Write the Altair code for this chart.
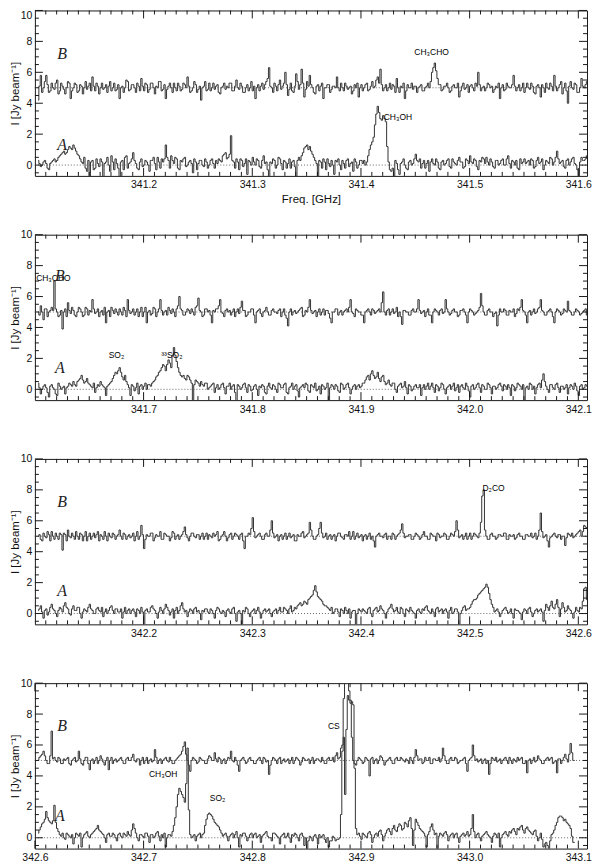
import altair as alt
import pandas as pd

# ---------------- data ----------------
START = [341.1, 341.6, 342.1, 342.6]      # GHz, left end of each panel
CH_STEP = 0.0025                           # spacing of the listed channels (GHz)
HALF = 0.00125                             # *_H lists: channels half-way between
CH_FIRST = 0.003                           # first channel offset (GHz)
SPAN = 0.508
Y_DOMAIN = [-0.7, 10.0]

B_1 = [4.2, 5.8, 5.0, 5.8, 4.7, 5.3, 4.9, 5.5, 4.8, 5.1,
       4.6, 5.4, 4.3, 5.0, 5.2, 4.8, 5.1, 5.0, 4.9, 5.3,
       5.7, 4.8, 5.1, 5.0, 4.9, 5.2, 5.1, 4.8, 5.3, 4.9,
       4.3, 5.1, 5.0, 5.4, 4.9, 5.2, 4.7, 5.1, 5.6, 4.8,
       5.2, 4.9, 5.3, 4.6, 5.0, 5.4, 4.9, 4.3, 5.1, 5.0,
       5.3, 4.8, 5.1, 4.9, 5.2, 5.7, 4.7, 5.0, 5.2, 4.9,
       4.2, 5.1, 4.8, 5.3, 5.0, 4.9, 5.2, 4.6, 5.1, 4.9,
       5.0, 5.3, 4.8, 5.5, 4.9, 5.1, 4.7, 5.2, 5.0, 4.8,
       4.3, 5.2, 5.1, 4.9, 5.4, 6.3, 5.0, 5.3, 4.8, 5.5,
       5.1, 6.0, 4.5, 5.3, 4.7, 5.9, 4.9, 6.2, 4.4, 5.4,
       5.8, 5.0, 4.6, 5.2, 5.1, 4.3, 5.0, 5.2, 4.9, 5.1,
       5.7, 4.8, 5.0, 5.3, 4.9, 5.1, 4.8, 5.0, 4.4, 5.2,
       5.0, 5.3, 4.9, 5.4, 5.1, 5.7, 6.2, 4.8, 5.2, 5.0,
       4.9, 5.1, 5.6, 4.7, 5.0, 4.3, 5.2, 5.0, 4.9, 5.1,
       5.0, 5.2, 4.8, 5.1, 5.0, 6.0, 6.6, 5.6, 5.2, 4.9,
       5.1, 5.0, 4.8, 5.2, 5.0, 4.4, 5.1, 4.9, 5.2, 5.1,
       5.0, 5.3, 6.0, 4.8, 5.1, 5.0, 5.2, 5.1, 4.9, 5.0,
       4.3, 5.2, 4.9, 5.1, 5.0, 5.8, 4.8, 5.2, 5.0, 4.7,
       5.3, 4.9, 5.1, 4.6, 5.2, 4.4, 5.0, 5.3, 4.9, 5.1,
       5.8, 4.8, 5.2, 4.6, 5.3, 4.0, 5.4, 4.9, 5.2, 4.7,
       5.6, 5.0, 5.4]
B_1_H = [5.1, 4.7, 5.4, 5.2, 4.8, 5.0, 5.3, 4.6, 5.3, 4.9,
         5.0, 5.3, 4.8, 5.3, 4.7, 5.2, 4.6, 5.4, 5.1, 4.8,
         5.1, 5.3, 4.6, 5.3, 5.0, 4.7, 5.4, 5.0, 4.8, 5.2,
         5.0, 4.7, 5.5, 4.8, 5.2, 5.0, 5.3, 4.8, 5.1, 5.3,
         4.7, 5.3, 5.0, 5.1, 5.4, 4.8, 5.2, 4.9, 5.3, 4.7,
         5.0, 5.3, 4.8, 5.3, 5.0, 5.1, 4.8, 5.4, 4.7, 5.1,
         5.0, 5.4, 4.9, 4.8, 5.3, 5.1, 4.7, 5.0, 5.3, 5.1,
         5.3, 4.8, 5.1, 5.0, 5.3, 4.7, 5.0, 4.8, 5.4, 5.1,
         5.0, 4.8, 5.3, 5.2, 5.6, 5.1, 4.7, 5.1, 5.2, 4.9,
         5.3, 5.2, 4.9, 4.8, 5.1, 5.4, 5.2, 5.3, 4.9, 5.1,
         5.2, 4.7, 5.1, 4.8, 5.3, 5.0, 5.2, 4.7, 5.1, 5.0,
         5.0, 5.3, 4.8, 5.1, 5.0, 4.6, 5.2, 5.3, 5.0, 4.8,
         5.2, 4.8, 5.1, 5.0, 5.5, 5.3, 5.2, 5.0, 4.8, 5.3,
         5.2, 4.7, 5.0, 5.1, 5.3, 4.8, 5.0, 5.3, 5.1, 4.7,
         5.1, 4.8, 5.0, 5.3, 5.4, 6.3, 6.1, 5.2, 4.8, 5.1,
         5.3, 4.7, 5.1, 5.0, 5.3, 4.8, 5.3, 5.0, 4.7, 5.2,
         4.8, 5.1, 5.2, 5.0, 4.8, 5.3, 5.0, 4.7, 5.1, 5.3,
         5.0, 4.8, 5.3, 5.0, 5.2, 5.1, 5.0, 4.8, 5.3, 5.0,
         5.0, 5.3, 4.7, 5.1, 5.0, 5.2, 4.7, 5.0, 5.3, 4.8,
         5.1, 5.0, 5.4, 5.0, 4.8, 5.1, 5.0, 5.3, 4.7, 5.0,
         5.1, 5.2, 5.0]
A_1 = [0.3, -0.1, 0.2, 0.1, -0.3, 0.2, 0.4, 0.3, 0.6, 0.8,
       0.7, 1.0, 1.1, 1.3, 0.9, 0.6, 0.2, 0.5, -0.4, -0.9,
       0.3, -0.2, 0.1, 0.4, -0.8, 0.2, 0.0, 0.6, -0.3, 0.1,
       -1.0, 0.3, 0.5, -0.2, 0.2, 0.8, 0.1, -0.3, 0.4, 0.0,
       0.2, -0.4, 0.3, 0.1, 0.5, -0.2, 0.2, 1.3, 0.3, 0.6,
       0.1, 0.4, -0.3, 0.2, 0.5, 0.0, 0.3, -0.5, 0.2, 0.1,
       0.3, -0.1, 0.2, 0.0, 0.4, -0.2, 0.1, 0.3, 0.6, 0.8,
       0.5, 1.9, 0.2, 0.4, -0.3, 0.3, 0.1, -0.6, 0.2, 0.5,
       0.0, 0.3, -0.2, 0.6, 0.2, -0.8, 0.1, 0.3, 0.0, 0.4,
       -0.3, 0.2, 0.1, -0.2, 0.3, -0.9, 0.5, 0.6, 1.1, 1.3,
       1.2, 0.7, 0.3, -0.9, 0.2, 0.4, -0.3, 0.1, 0.3, -0.6,
       0.2, 0.0, 0.3, -0.2, 0.4, 0.1, -0.4, 0.2, 0.0, 0.3,
       0.3, 0.2, 1.0, 1.5, 2.6, 3.8, 3.0, 3.2, 2.8, 0.2,
       -0.4, -0.9, 0.1, -0.6, 0.2, 0.0, -0.3, 0.3, 0.1, 0.7,
       0.2, -0.2, 0.3, 0.1, -0.4, 0.4, 0.0, 0.2, -0.3, 0.3,
       0.1, 0.4, -0.2, 0.2, 0.0, 0.5, 0.2, -0.1, 0.3, 0.6,
       0.1, 0.3, -0.3, 0.2, 0.4, 0.5, 0.0, 0.2, -0.2, 0.3,
       0.1, 0.4, 0.0, 0.6, -0.2, 0.2, 0.3, -0.3, 0.1, 0.4,
       0.2, 0.0, 0.3, -0.1, 0.5, 0.2, -0.3, 0.3, 0.1, 0.4,
       0.2, 0.9, 0.1, 0.3, -0.2, 0.4, 0.2, 0.5, 0.0, -0.7,
       0.5, 0.3, 0.6]
A_1_H = [0.1, 0.0, 0.3, -0.2, 0.1, 0.3, 0.2, 0.5, 0.7, 0.9,
         0.8, 1.2, 1.0, 1.1, 0.7, 0.4, 0.1, -0.2, 0.3, 0.2,
         -0.3, 0.4, -0.1, 0.2, 0.1, 0.5, -0.4, 0.2, 0.4, -0.2,
         0.2, -0.3, 0.6, 0.1, 0.4, 0.3, -0.2, 0.2, -0.1, 0.3,
         0.0, 0.3, 0.5, -0.3, 0.2, 0.4, 0.4, 0.5, -0.2, 0.3,
         0.5, -0.2, 0.3, 0.4, -0.1, 0.2, 0.1, 0.4, -0.3, 0.3,
         0.0, 0.4, -0.2, 0.3, 0.1, 0.3, 0.4, 0.2, 0.7, 0.4,
         0.7, 0.3, -0.2, 0.2, 0.4, -0.1, 0.4, 0.3, 0.0, 0.2,
         0.4, -0.1, 0.3, 0.1, -0.3, 0.2, 0.4, -0.2, 0.5, 0.1,
         0.3, -0.2, 0.4, 0.2, -0.1, 0.3, 0.3, 0.8, 1.2, 1.0,
         0.9, 0.5, 0.1, 0.3, -0.2, 0.2, 0.4, -0.1, 0.0, 0.3,
         0.4, -0.3, 0.1, 0.3, -0.1, 0.2, 0.4, -0.2, 0.3, 0.1,
         0.0, 0.6, 1.3, 1.8, 3.3, 3.4, 2.9, 3.0, 1.2, -0.3,
         -0.2, 0.3, -0.3, 0.1, 0.4, -0.2, 0.2, 0.0, 0.4, 0.3,
         0.4, 0.1, -0.2, 0.3, 0.2, 0.1, 0.4, -0.2, 0.2, 0.0,
         0.3, -0.1, 0.4, 0.1, 0.3, 0.2, -0.2, 0.4, 0.1, 0.2,
         0.4, -0.1, 0.3, 0.5, 0.1, 0.2, 0.4, -0.1, 0.3, 0.0,
         0.3, 0.0, 0.4, 0.1, 0.3, 0.0, -0.2, 0.4, 0.2, 0.1,
         0.3, 0.4, -0.2, 0.3, 0.1, 0.4, 0.0, 0.2, 0.5, 0.0,
         0.5, 0.4, 0.2, -0.1, 0.3, 0.0, 0.4, 0.1, -0.3, 0.2,
         0.3, 0.4, 0.2]

B_2 = [5.0, 5.4, 4.5, 5.2, 5.0, 5.3, 7.0, 5.0, 4.8, 3.9,
       5.2, 5.6, 4.9, 5.1, 4.7, 5.3, 5.0, 4.8, 5.2, 5.1,
       5.8, 4.9, 5.2, 5.0, 4.8, 4.3, 5.1, 5.3, 4.9, 5.0,
       5.2, 4.8, 5.1, 5.8, 4.9, 5.2, 5.0, 4.7, 5.3, 5.0,
       4.3, 5.1, 4.9, 5.2, 5.0, 5.8, 4.8, 5.1, 5.3, 4.9,
       5.0, 5.2, 6.0, 5.1, 4.8, 5.2, 4.9, 5.0, 5.3, 5.9,
       5.0, 4.8, 5.2, 5.1, 4.3, 5.0, 5.2, 5.8, 4.9, 5.1,
       5.0, 4.8, 5.2, 5.0, 4.9, 5.7, 5.1, 4.8, 5.0, 5.2,
       4.3, 5.1, 4.9, 5.0, 5.3, 4.8, 5.1, 5.0, 4.9, 5.2,
       5.0, 4.8, 4.1, 5.2, 5.0, 4.9, 5.1, 5.3, 4.8, 5.0,
       5.8, 4.9, 5.1, 5.0, 4.8, 5.2, 5.1, 4.9, 4.3, 5.0,
       5.2, 5.0, 4.8, 5.1, 5.0, 5.8, 4.9, 5.2, 5.0, 4.8,
       4.3, 5.1, 5.0, 5.2, 4.9, 5.1, 5.0, 6.3, 4.8, 5.2,
       5.0, 4.9, 5.3, 5.0, 4.2, 5.1, 5.0, 4.8, 5.2, 5.0,
       5.8, 4.9, 5.1, 5.0, 4.8, 4.3, 5.2, 5.0, 5.1, 4.9,
       5.8, 5.0, 4.9, 5.2, 5.0, 4.8, 5.1, 5.0, 4.3, 5.2,
       5.0, 4.9, 5.1, 6.2, 5.0, 4.8, 5.2, 5.0, 4.9, 4.1,
       5.2, 5.0, 5.1, 4.8, 5.0, 5.2, 4.9, 5.1, 5.8, 5.0,
       4.3, 5.1, 5.0, 4.9, 5.2, 5.8, 5.0, 4.8, 5.1, 5.0,
       4.3, 5.2, 5.0, 4.9, 5.1, 5.7, 5.0, 4.8, 5.2, 5.0,
       4.9, 5.1, 4.8]
B_2_H = [4.8, 5.0, 5.2, 4.7, 5.1, 5.1, 5.2, 4.7, 5.1, 5.0,
         4.7, 5.1, 5.3, 4.8, 5.0, 5.2, 4.7, 5.3, 4.8, 5.0,
         5.2, 5.0, 4.7, 5.1, 5.3, 5.0, 4.7, 5.1, 5.2, 4.8,
         5.0, 5.3, 4.7, 5.1, 5.0, 4.8, 5.2, 5.0, 4.7, 5.3,
         5.0, 4.8, 5.3, 4.7, 5.2, 5.1, 5.0, 4.8, 5.1, 5.2,
         4.7, 5.4, 5.2, 4.8, 5.0, 5.1, 5.2, 4.8, 5.4, 5.1,
         4.7, 5.2, 5.0, 4.8, 5.1, 5.2, 5.4, 5.0, 4.7, 5.2,
         5.1, 5.0, 4.7, 5.2, 5.3, 5.1, 4.7, 5.0, 5.2, 4.8,
         5.0, 5.2, 4.7, 5.1, 5.0, 4.8, 5.2, 5.0, 5.1, 4.7,
         5.2, 4.6, 5.0, 4.8, 5.1, 5.0, 5.2, 4.7, 5.1, 5.3,
         5.1, 5.0, 4.7, 5.2, 5.0, 4.8, 5.1, 4.6, 5.0, 5.2,
         4.8, 5.1, 5.0, 5.2, 5.3, 5.0, 4.7, 5.1, 5.0, 4.8,
         5.0, 5.2, 4.8, 5.1, 5.0, 5.2, 5.6, 5.0, 5.1, 4.8,
         5.2, 5.0, 4.7, 4.7, 5.1, 5.0, 4.8, 5.1, 5.0, 5.2,
         5.1, 5.0, 4.7, 5.2, 4.8, 5.0, 5.1, 4.8, 5.2, 5.0,
         5.2, 4.8, 5.1, 5.0, 4.7, 5.1, 5.2, 4.8, 5.0, 5.1,
         4.8, 5.0, 5.3, 5.4, 4.8, 5.1, 5.0, 4.7, 5.0, 4.8,
         5.0, 5.2, 4.8, 5.1, 5.0, 4.7, 5.2, 5.3, 5.1, 4.8,
         5.0, 4.8, 5.2, 5.0, 5.3, 5.1, 4.8, 5.0, 5.2, 4.7,
         5.0, 5.1, 4.8, 5.2, 5.0, 5.1, 4.8, 5.0, 5.1, 4.8,
         5.0, 5.2, 5.0]
A_2 = [0.4, -0.3, 0.2, 0.1, -0.5, 0.3, 0.0, -0.4, 0.2, 0.1,
       -0.3, 0.2, 0.3, 0.5, 0.2, 0.6, 0.9, 0.4, 0.7, 0.3,
       0.1, -0.2, 0.3, 0.5, 0.2, -0.4, 0.3, 0.5, 0.9, 1.0,
       1.4, 0.8, 0.9, 0.3, -0.4, 0.2, 0.1, -0.3, 0.3, 0.2,
       0.0, 0.3, 0.4, 0.6, 0.9, 1.2, 1.6, 1.2, 1.9, 1.4,
       2.7, 1.8, 1.1, 0.8, 0.7, 0.9, 0.6, -0.8, 0.6, 0.4,
       0.5, 0.2, 0.4, 0.1, 0.3, -0.2, 0.3, 0.1, 0.4, -0.3,
       0.2, 0.0, 0.3, -0.8, 0.2, 0.1, 0.4, -0.2, 0.2, 0.0,
       0.3, -0.4, 0.1, 0.2, -0.3, 0.4, 0.0, 0.2, -0.2, 0.3,
       0.1, 0.4, -0.3, 0.2, 0.0, 0.3, -0.5, 0.2, 0.1, 0.3,
       -0.2, 0.2, 0.4, 0.0, -0.3, 0.2, 0.1, -0.8, 0.3, 0.0,
       0.2, -0.2, 0.3, 0.1, 0.4, -0.3, 0.2, 0.0, 0.3, 0.2,
       0.4, 0.8, 0.6, 1.2, 0.7, 1.1, 0.5, 0.9, 0.3, 0.6,
       0.2, 0.4, -0.2, 0.3, 0.1, 0.5, -0.3, 0.2, 0.0, 0.3,
       0.1, -0.4, 0.3, 0.2, 0.0, 0.4, -0.2, 0.2, 0.1, 0.3,
       -0.3, 0.2, 0.0, 0.4, 0.1, -0.2, 0.3, 0.0, 0.2, -0.5,
       0.3, 0.1, 0.4, -0.2, 0.2, 0.0, 0.3, -0.3, 0.2, 0.1,
       0.4, -0.1, 0.2, 0.3, -0.4, 0.2, 0.1, 0.3, 0.0, -0.8,
       0.2, 0.4, 0.0, -0.3, 0.3, 0.1, 1.0, 0.2, -0.2, 0.3,
       0.0, 0.4, -0.2, 0.2, 0.1, -0.3, 0.3, 0.0, 0.2, -0.4,
       0.3, 0.1, 0.2]
A_2_H = [0.1, 0.0, 0.3, -0.2, 0.2, 0.1, -0.3, 0.4, 0.0, 0.2,
         0.1, 0.4, 0.2, 0.3, 0.5, 0.7, 0.6, 0.5, 0.4, 0.2,
         0.4, 0.1, 0.2, 0.3, 0.1, 0.2, 0.4, 0.7, 1.1, 1.2,
         1.1, 0.6, 0.5, 0.1, 0.3, -0.1, 0.4, 0.2, 0.0, 0.4,
         0.3, 0.2, 0.5, 0.8, 1.1, 1.4, 1.5, 1.6, 1.7, 2.2,
         2.2, 1.4, 0.9, 0.9, 0.6, 0.8, 0.4, 0.3, 0.5, 0.2,
         0.3, 0.4, 0.0, 0.2, 0.4, 0.1, 0.0, 0.3, 0.1, 0.2,
         0.4, 0.2, -0.2, 0.3, 0.0, 0.3, 0.1, 0.3, -0.1, 0.2,
         0.0, 0.2, 0.3, -0.2, 0.2, 0.1, 0.3, 0.0, 0.4, 0.1,
         0.3, -0.2, 0.1, 0.4, 0.2, -0.1, 0.1, 0.3, 0.4, -0.1,
         0.3, 0.1, -0.1, 0.2, 0.3, 0.0, 0.4, 0.1, 0.2, 0.3,
         -0.1, 0.4, 0.0, 0.3, 0.1, 0.0, 0.3, 0.2, 0.1, 0.4,
         0.6, 0.9, 1.0, 0.9, 0.8, 0.7, 0.8, 0.5, 0.4, 0.3,
         0.4, 0.0, 0.2, 0.4, 0.2, 0.1, 0.3, -0.1, 0.2, 0.1,
         0.3, 0.1, 0.0, 0.4, 0.2, 0.1, 0.3, -0.1, 0.4, 0.0,
         0.1, 0.3, 0.2, -0.1, 0.3, 0.2, 0.1, 0.4, -0.1, 0.2,
         0.0, 0.3, 0.1, 0.3, 0.0, 0.4, 0.1, 0.2, 0.0, 0.3,
         0.2, 0.3, 0.0, 0.1, 0.3, -0.1, 0.4, 0.2, 0.3, 0.1,
         0.0, 0.3, 0.2, 0.1, 0.4, 0.6, 0.5, 0.0, 0.3, 0.1,
         0.3, 0.1, 0.2, 0.0, 0.3, 0.1, 0.2, 0.4, -0.1, 0.2,
         0.0, 0.3, 0.1]

B_3 = [5.0, 4.8, 5.2, 4.9, 5.1, 5.3, 4.8, 5.0, 5.2, 4.1,
       5.1, 5.4, 4.9, 5.0, 5.3, 4.8, 5.1, 5.0, 4.7, 5.2,
       5.0, 4.9, 5.3, 5.1, 4.8, 5.0, 5.2, 4.9, 5.1, 5.0,
       5.4, 4.8, 5.1, 5.0, 4.9, 5.2, 5.0, 4.8, 5.7, 4.2,
       5.1, 5.0, 5.2, 4.9, 5.0, 5.3, 4.8, 5.1, 5.0, 4.9,
       5.2, 5.0, 4.8, 5.1, 5.6, 4.9, 5.0, 5.2, 4.9, 5.1,
       5.0, 4.8, 5.2, 5.1, 4.9, 5.0, 5.3, 4.8, 5.1, 5.0,
       4.9, 5.2, 5.0, 5.1, 4.8, 5.2, 4.2, 5.0, 5.1, 6.2,
       4.9, 5.1, 5.0, 4.8, 5.2, 5.0, 6.0, 4.9, 5.1, 5.0,
       4.8, 5.2, 5.0, 4.9, 5.1, 4.7, 5.0, 5.2, 4.9, 5.1,
       5.9, 5.0, 4.8, 5.1, 5.9, 4.9, 5.2, 5.0, 4.8, 5.1,
       5.0, 5.2, 4.9, 5.1, 5.0, 4.8, 5.3, 5.0, 4.9, 5.1,
       5.0, 4.8, 5.2, 5.0, 4.3, 5.1, 5.0, 4.9, 5.2, 5.0,
       4.8, 5.1, 5.0, 5.2, 5.8, 4.9, 5.0, 5.1, 4.8, 5.2,
       5.0, 4.9, 5.3, 5.0, 4.8, 5.1, 5.0, 5.2, 4.9, 5.0,
       5.1, 4.8, 5.2, 5.0, 6.0, 4.9, 5.1, 5.0, 4.8, 5.2,
       5.0, 5.1, 4.9, 5.9, 8.0, 5.0, 4.8, 5.2, 5.0, 4.9,
       5.1, 5.0, 5.2, 4.8, 5.0, 5.1, 4.9, 5.2, 5.0, 4.8,
       5.1, 5.0, 4.9, 5.2, 5.0, 6.5, 4.9, 5.1, 4.3, 5.0,
       5.2, 4.9, 5.1, 5.0, 4.4, 5.2, 5.0, 4.9, 5.1, 5.3,
       5.0, 5.7, 5.5]
B_3_H = [5.1, 4.7, 5.0, 5.3, 4.7, 5.0, 5.2, 4.8, 5.1, 5.2,
         4.7, 5.0, 5.2, 4.8, 5.0, 5.2, 4.7, 5.3, 5.0, 4.8,
         5.2, 5.1, 4.7, 5.0, 5.3, 4.7, 5.0, 5.2, 4.8, 5.1,
         5.0, 5.2, 4.8, 5.1, 5.0, 4.7, 5.3, 5.0, 5.1, 4.8,
         5.0, 5.2, 4.7, 5.1, 5.0, 4.8, 5.2, 5.0, 4.7, 5.3,
         4.8, 5.1, 5.0, 5.3, 5.1, 4.7, 5.2, 5.0, 5.1, 4.8,
         5.2, 5.0, 4.8, 5.0, 5.2, 5.1, 4.7, 5.0, 5.3, 4.7,
         5.1, 4.8, 5.2, 5.0, 5.1, 4.7, 5.0, 5.2, 5.5, 5.3,
         5.0, 5.2, 4.8, 5.1, 5.0, 5.4, 5.2, 5.0, 4.7, 5.1,
         5.0, 4.8, 5.2, 5.0, 4.7, 5.1, 5.0, 5.3, 5.0, 5.2,
         5.4, 4.8, 5.0, 5.5, 5.2, 5.0, 4.8, 5.1, 5.0, 4.7,
         5.2, 5.0, 4.8, 5.1, 5.3, 5.0, 4.8, 5.2, 5.0, 4.7,
         5.1, 5.0, 4.8, 4.7, 5.0, 5.2, 5.0, 5.1, 4.8, 5.0,
         5.2, 4.8, 5.1, 5.4, 5.2, 5.0, 5.1, 4.8, 5.0, 5.1,
         4.8, 5.1, 5.0, 4.8, 5.2, 5.0, 4.7, 5.1, 5.0, 5.2,
         4.8, 5.0, 5.1, 5.3, 5.4, 5.0, 4.8, 5.2, 5.0, 4.8,
         5.2, 5.0, 5.2, 7.6, 5.4, 4.8, 5.1, 5.0, 4.8, 5.1,
         5.0, 5.2, 4.8, 5.1, 5.0, 4.8, 5.1, 5.0, 4.8, 5.1,
         5.0, 5.2, 5.0, 4.8, 5.4, 5.3, 5.0, 4.7, 4.9, 5.1,
         5.0, 5.1, 4.8, 5.0, 4.9, 5.1, 5.2, 5.0, 5.2, 5.4,
         5.3, 5.6, 5.5]
A_3 = [0.2, 0.5, -0.3, 0.3, 0.1, 0.6, 0.2, -0.2, 0.4, 0.1,
       0.7, 0.3, -0.1, 0.5, 0.2, 0.4, -0.3, 0.3, 0.1, 0.6,
       0.2, 0.0, 0.4, 0.1, -0.2, 0.3, 0.2, 0.5, 0.0, 0.3,
       0.1, -0.3, 0.4, 0.2, 0.0, 0.3, -0.2, 0.2, 0.4, -0.7,
       0.3, 0.1, 0.5, 0.2, -0.3, 0.4, 0.0, 0.6, 0.2, 0.1,
       -0.3, 0.4, 0.2, 0.7, 0.1, -0.2, 0.3, 0.0, 0.4, 0.2,
       -0.4, 0.1, 0.3, 0.0, 0.2, -0.3, 0.4, 0.1, 0.2, -0.2,
       0.3, 0.0, 0.4, -0.5, 0.2, -0.7, 0.1, 0.3, -0.2, 0.2,
       0.0, 0.4, -0.3, 0.2, 0.1, 0.3, -0.2, 0.2, 0.0, 0.4,
       0.1, 0.3, 0.0, 0.5, 0.2, 0.3, 0.6, 0.5, 0.8, 0.6,
       1.0, 1.2, 1.8, 1.1, 0.9, 0.6, 0.5, 0.3, 0.4, 0.1,
       0.3, -0.2, 0.2, 0.4, 0.0, -0.3, 0.2, -0.7, 0.3, 0.1,
       0.2, 0.0, 0.4, -0.2, 0.3, 0.1, 0.5, 0.2, -0.3, 0.3,
       0.6, 0.1, 0.4, 0.0, 0.3, -0.2, 0.2, 0.4, 0.1, -0.3,
       0.3, 0.0, 0.2, 0.5, 0.1, 0.3, -0.2, 0.4, 0.2, 0.0,
       0.3, -0.3, 0.4, 0.1, 0.3, -0.7, 0.2, 0.5, 0.3, 0.4,
       0.8, 0.9, 1.2, 1.4, 1.6, 1.9, 1.3, 0.6, 0.1, 0.3,
       -0.2, 0.2, 0.4, 0.0, 0.3, -0.3, 0.2, 0.1, -0.4, 0.3,
       0.0, 0.4, -0.2, 0.2, 0.1, 0.3, -0.5, 0.6, 0.2, 0.8,
       0.3, 0.9, -0.2, 0.7, 0.1, 0.5, 0.2, -0.3, 0.4, 0.1,
       0.3, 1.6, 0.9]
A_3_H = [0.3, 0.1, 0.2, -0.1, 0.4, 0.3, 0.0, 0.2, 0.3, 0.5,
         0.4, 0.0, 0.3, 0.2, 0.4, 0.0, 0.1, 0.2, 0.4, 0.3,
         0.0, 0.3, 0.2, 0.4, 0.1, 0.0, 0.4, 0.2, 0.3, 0.1,
         0.3, 0.1, 0.0, 0.3, 0.2, 0.1, 0.3, 0.0, 0.1, 0.2,
         0.1, 0.4, 0.3, 0.0, 0.1, 0.2, 0.3, 0.4, -0.1, 0.3,
         0.2, 0.0, 0.5, 0.3, 0.2, 0.1, 0.2, 0.3, 0.1, 0.0,
         0.2, 0.3, 0.1, 0.3, 0.0, 0.2, 0.3, 0.0, 0.1, 0.2,
         0.1, 0.3, 0.0, 0.1, 0.0, 0.2, 0.4, 0.0, 0.1, 0.3,
         0.2, 0.1, 0.0, 0.3, 0.2, 0.0, 0.1, 0.3, 0.2, 0.1,
         0.4, 0.2, 0.3, 0.1, 0.4, 0.5, 0.7, 0.6, 0.7, 0.9,
         1.1, 1.5, 1.4, 1.0, 0.8, 0.5, 0.4, 0.2, 0.0, 0.3,
         0.1, 0.3, 0.0, 0.2, 0.3, 0.1, 0.2, 0.0, 0.2, 0.3,
         0.1, 0.3, 0.0, 0.2, 0.4, 0.2, 0.3, 0.0, 0.1, 0.4,
         0.3, 0.2, 0.1, 0.4, 0.0, 0.3, 0.1, 0.2, 0.0, 0.2,
         0.1, 0.3, 0.4, 0.2, 0.0, 0.1, 0.3, 0.1, 0.3, 0.2,
         0.1, 0.2, 0.0, 0.3, 0.1, 0.0, 0.4, 0.2, 0.3, 0.6,
         0.9, 1.0, 1.3, 1.5, 1.7, 1.7, 0.9, 0.4, 0.2, 0.1,
         0.0, 0.3, 0.2, 0.1, 0.0, 0.3, 0.2, 0.0, 0.1, 0.2,
         0.3, 0.1, 0.0, 0.3, 0.2, 0.1, 0.2, 0.4, 0.5, 0.4,
         0.6, 0.4, 0.3, 0.4, 0.2, 0.3, 0.0, 0.1, 0.2, 0.4,
         0.8, 1.7, 0.6]

B_4 = [5.0, 5.3, 5.6, 5.0, 4.8, 6.9, 5.2, 4.9, 5.1, 4.8,
       5.0, 5.2, 4.7, 5.1, 4.9, 5.6, 4.8, 5.0, 5.2, 4.4,
       5.1, 5.0, 4.8, 5.3, 4.9, 5.0, 4.4, 5.2, 5.0, 4.9,
       5.1, 5.0, 4.8, 5.2, 5.0, 5.4, 4.9, 5.1, 5.0, 4.8,
       5.2, 5.0, 4.9, 5.7, 4.8, 5.1, 5.0, 5.2, 4.9, 5.0,
       4.8, 5.1, 5.3, 5.6, 6.2, 5.0, 4.3, 5.2, 5.0, 4.9,
       5.1, 5.0, 4.8, 5.3, 5.0, 5.5, 4.9, 5.1, 5.0, 4.8,
       5.2, 5.6, 4.9, 5.0, 4.3, 5.1, 5.0, 4.9, 5.2, 5.0,
       4.8, 5.1, 5.0, 5.2, 4.9, 4.1, 5.0, 5.1, 4.8, 5.2,
       5.0, 4.9, 5.1, 5.0, 4.8, 5.2, 5.0, 4.9, 5.1, 5.0,
       4.8, 5.2, 5.0, 5.1, 4.9, 5.0, 4.8, 5.2, 5.0, 4.9,
       5.5, 5.2, 6.0, 10.8, 10.8, 8.9, 5.0, 4.7, 5.2, 5.0,
       4.9, 5.1, 4.0, 5.2, 5.0, 4.8, 5.3, 5.0, 4.9, 5.1,
       5.0, 4.8, 5.2, 5.0, 5.1, 4.9, 5.0, 5.2, 4.8, 5.7,
       5.0, 5.1, 4.9, 5.0, 5.2, 4.8, 5.1, 5.0, 4.9, 5.8,
       5.0, 4.8, 5.2, 5.0, 5.1, 4.9, 5.0, 5.2, 4.3, 5.1,
       6.0, 5.0, 4.9, 5.1, 5.0, 4.8, 4.1, 5.2, 5.0, 4.9,
       5.1, 5.0, 5.2, 4.8, 5.0, 5.1, 4.9, 5.0, 5.2, 4.8,
       4.2, 5.1, 5.0, 4.9, 5.3, 5.0, 4.8, 5.1, 5.0, 5.2,
       4.9, 4.2, 5.1, 5.0, 5.4, 4.9, 6.1, 5.0]
B_4_H = [5.2, 5.4, 5.3, 4.8, 5.3, 5.1, 5.0, 5.2, 4.8, 5.1,
         5.1, 4.8, 5.0, 5.2, 5.0, 5.1, 4.7, 5.2, 4.8, 5.0,
         4.8, 5.2, 5.0, 5.1, 4.7, 5.2, 5.0, 4.8, 5.1, 5.0,
         5.2, 4.8, 5.1, 5.0, 5.2, 5.0, 5.1, 4.7, 5.2, 5.0,
         4.8, 5.1, 5.0, 5.2, 5.0, 4.8, 5.1, 5.0, 5.2, 4.8,
         5.0, 5.2, 5.4, 5.9, 5.4, 4.7, 5.0, 5.1, 4.8, 5.2,
         5.0, 4.8, 5.1, 5.2, 5.0, 5.1, 5.2, 4.8, 5.1, 5.0,
         5.1, 5.0, 5.2, 4.7, 5.0, 5.2, 4.8, 5.1, 5.0, 4.8,
         5.0, 5.2, 4.8, 5.1, 5.0, 4.7, 5.2, 5.0, 5.1, 4.8,
         5.1, 5.0, 4.8, 5.2, 5.0, 5.1, 4.7, 5.2, 5.0, 5.1,
         5.0, 4.8, 5.1, 5.0, 5.2, 4.8, 5.1, 5.0, 5.2, 5.3,
         5.1, 5.8, 9.0, 10.8, 9.5, 6.5, 4.8, 5.0, 5.1, 4.8,
         5.2, 5.0, 5.1, 4.8, 5.1, 5.0, 5.2, 4.7, 5.0, 5.2,
         4.8, 5.1, 5.0, 5.2, 5.0, 5.1, 4.8, 5.0, 5.2, 5.3,
         5.1, 4.8, 5.2, 5.0, 4.8, 5.1, 5.0, 5.2, 5.1, 5.3,
         4.8, 5.1, 5.0, 5.2, 4.8, 5.0, 5.1, 4.8, 5.0, 5.2,
         5.3, 5.1, 5.0, 4.8, 5.1, 5.0, 4.8, 5.1, 5.2, 5.0,
         4.8, 5.1, 5.0, 5.2, 4.8, 5.0, 5.2, 5.1, 4.8, 5.0,
         5.0, 4.8, 5.2, 5.0, 5.1, 4.8, 5.0, 5.2, 5.1, 4.8,
         5.0, 5.1, 4.8, 5.2, 5.1, 5.4, 5.5, 5.0]
A_4 = [0.3, 0.7, 1.0, 1.7, 1.1, 0.9, 2.1, 0.6, 0.2, 0.3,
       -0.1, 0.2, 0.0, -0.4, 0.3, 0.1, -0.6, 0.2, 0.4, 0.0,
       0.3, 0.5, 0.8, 0.4, 0.2, -0.3, 0.3, 0.1, 0.2, -0.2,
       0.3, 0.0, 0.2, 0.4, 0.1, 0.9, 0.3, -0.2, 0.2, 0.0,
       0.3, -0.3, 0.2, 0.1, 0.4, -0.2, 0.0, -0.6, 0.2, 0.1,
       0.8, 2.0, 3.2, 2.8, 2.3, 5.8, 0.2, 0.1, -0.2, 0.2,
       0.0, 0.3, 1.2, 1.6, 1.4, 1.0, 0.8, 0.5, 0.1, 0.3,
       -0.2, 0.2, 0.0, 0.4, -0.6, 0.1, 0.3, -0.2, 0.2, 0.0,
       0.3, 0.1, -0.3, 0.2, 0.4, 0.0, -0.2, 0.3, 0.1, -0.4,
       0.2, 0.0, 0.3, -0.3, 0.1, 0.2, -0.2, 0.3, -0.5, -0.7,
       0.1, -0.2, 0.2, -0.4, 0.0, 0.2, -0.3, -0.6, -0.2, 0.0,
       -0.1, 0.0, 5.6, 2.8, 9.2, 8.7, 8.6, 0.6, 0.3, -0.1,
       0.2, 0.0, 0.4, -0.3, 0.2, 0.1, 0.5, -0.2, 0.3, 0.6,
       0.2, 0.8, 0.4, 0.9, 0.5, 1.0, 0.7, 1.3, -0.5, 1.2,
       0.8, 0.5, 0.3, -0.6, 0.4, 0.9, 0.2, -0.7, 0.3, 0.1,
       0.4, -0.2, 0.2, 0.0, 0.3, -0.3, 0.2, 0.1, 0.4, 0.2,
       1.5, 0.0, 0.3, -0.2, 0.2, 0.4, 0.1, -0.3, 0.3, 0.0,
       -0.6, 0.2, 0.4, 0.1, 0.3, 0.6, 0.2, 0.5, 0.8, 0.3,
       0.7, 0.4, 0.2, 0.5, -0.2, 0.3, -0.6, -0.3, -0.7, 0.2,
       0.5, 1.0, 1.4, 1.3, 1.2, 0.9, 0.6, -0.3]
A_4_H = [0.5, 0.9, 1.2, 1.3, 1.0, 1.1, 1.0, 0.4, 0.1, 0.0,
         0.3, 0.1, 0.2, 0.0, 0.2, 0.3, 0.0, 0.3, 0.1, 0.2,
         0.4, 0.6, 0.5, 0.3, 0.0, 0.2, 0.1, 0.3, 0.0, 0.2,
         0.1, 0.3, 0.1, 0.2, 0.5, 0.6, 0.0, 0.2, 0.1, 0.3,
         0.1, 0.2, 0.0, 0.3, 0.1, 0.2, 0.3, 0.0, 0.2, 0.4,
         1.3, 2.8, 3.0, 2.6, 3.5, 1.8, 0.0, 0.2, 0.1, 0.3,
         0.2, 0.8, 1.5, 1.5, 1.2, 0.9, 0.7, 0.3, 0.2, 0.1,
         0.1, 0.3, 0.2, 0.0, 0.2, 0.3, 0.1, 0.0, 0.3, 0.2,
         0.0, 0.2, 0.1, 0.3, 0.1, 0.0, 0.3, 0.2, 0.0, 0.1,
         0.3, 0.1, 0.0, 0.2, 0.3, 0.0, 0.2, 0.1, 0.0, -0.2,
         0.0, 0.1, 0.0, 0.2, 0.1, -0.1, 0.0, -0.2, 0.1, -0.2,
         -0.1, 1.5, 6.5, 7.0, 8.9, 8.8, 4.5, 0.2, 0.1, 0.3,
         0.1, 0.3, 0.2, 0.0, 0.3, 0.4, 0.2, 0.1, 0.5, 0.4,
         0.6, 0.5, 0.7, 0.8, 0.6, 0.9, 1.1, 0.6, 0.5, 1.0,
         0.6, 0.4, 0.1, 0.2, 0.7, 0.5, 0.3, 0.1, 0.2, 0.3,
         0.2, 0.1, 0.3, 0.2, 0.0, 0.1, 0.3, 0.2, 0.1, 0.6,
         0.4, 0.2, 0.0, 0.1, 0.3, 0.2, 0.0, 0.1, 0.2, 0.3,
         0.0, 0.3, 0.2, 0.4, 0.5, 0.4, 0.6, 0.7, 0.5, 0.6,
         0.5, 0.3, 0.4, 0.1, 0.0, -0.1, -0.4, -0.5, -0.2, 0.3,
         0.8, 1.3, 1.4, 1.1, 1.0, 0.8, 0.1, -0.3]

SPEC_A = [A_1, A_2, A_3, A_4]
SPEC_AH = [A_1_H, A_2_H, A_3_H, A_4_H]
SPEC_B = [B_1, B_2, B_3, B_4]
SPEC_BH = [B_1_H, B_2_H, B_3_H, B_4_H]

X_LABELS = [[341.2, 341.3, 341.4, 341.5, 341.6],
            [341.7, 341.8, 341.9, 342.0, 342.1],
            [342.2, 342.3, 342.4, 342.5, 342.6],
            [342.6, 342.7, 342.8, 342.9, 343.0, 343.1]]
Y_MAJOR = [0, 2, 4, 6, 8, 10]
Y_MINOR = [-0.5, 0.5, 1, 1.5, 2.5, 3, 3.5, 4.5, 5, 5.5, 6.5, 7, 7.5, 8.5, 9, 9.5]
BASELINE = [0, 5]

# species labels: (frequency, intensity, text)
LINE_FREQ = [[341.465, 341.434],
             [341.617, 341.675, 341.726],
             [342.522],
             [342.718, 342.768, 342.875]]
LINE_INT = [[7.3, 3.1],
            [7.2, 2.2, 2.2],
            [8.1],
            [4.1, 2.55, 7.2]]
LINE_NAME = [["CH₃CHO", "CH₃OH"],
             ["CH₃CHO", "SO₂", "³³SO₂"],
             ["D₂CO"],
             ["CH₃OH", "SO₂", "CS"]]

# position letters
POS_FREQ = [[341.125, 341.125], [341.623, 341.623], [342.125, 342.125], [342.625, 342.623]]
POS_INT = [[7.2, 1.3], [7.3, 1.4], [7.2, 1.45], [7.2, 1.4]]
POS_NAME = ["B", "A"]

# ---------------- styling ----------------
W, H = 554, 166
LINE_COLOR = "#333333"
FRAME = "#1a1a1a"
SANS = "Liberation Sans"


def channels(s, vals, shift):
    return [round(s + CH_FIRST + shift + CH_STEP * i, 6) for i in range(len(vals))]


def panel(k):
    s = START[k]
    xs = alt.Scale(domain=[s, round(s + SPAN, 4)], nice=False, zero=False)
    ys = alt.Scale(domain=Y_DOMAIN, nice=False, zero=False)

    xaxis = alt.Axis(values=X_LABELS[k], format=".1f", ticks=False, domain=False,
                     grid=False, labelFlush=False, labelPadding=4, labelFont=SANS,
                     labelFontSize=10.5, labelColor="#111", titleFont=SANS,
                     titleFontSize=11.5, titleFontWeight="normal", titlePadding=3,
                     titleColor="#111")
    yaxis = alt.Axis(values=Y_MAJOR, ticks=False, domain=False, grid=False,
                     labelFlush=(k == 0), labelPadding=3, labelFont=SANS,
                     labelFontSize=10.5, labelColor="#111", titleFont=SANS,
                     titleFontSize=11.5, titleFontWeight="normal", titlePadding=0,
                     titleColor="#111")
    X = alt.X("f:Q", scale=xs, axis=xaxis, title=("Freq. [GHz]" if k == 0 else ""))
    Y = alt.Y("v:Q", scale=ys, axis=yaxis, title="I [Jy beam⁻¹]")

    A, AH, B, BH = SPEC_A[k], SPEC_AH[k], SPEC_B[k], SPEC_BH[k]
    f = (channels(s, A, 0) + channels(s, AH, HALF)
         + channels(s, B, 0) + channels(s, BH, HALF))
    src = ["A"] * (len(A) + len(AH)) + ["B"] * (len(B) + len(BH))
    spec = pd.DataFrame({"f": f, "v": A + AH + B + BH, "src": src})

    lines = alt.Chart(spec).mark_line(interpolate="step", clip=True,
                                      color=LINE_COLOR, strokeWidth=1).encode(
        x=X, y=Y, detail="src:N", order="f:Q")

    base = alt.Chart(pd.DataFrame({"v": BASELINE})).mark_rule(
        color="#555", strokeWidth=0.9, strokeDash=[1, 2]).encode(
        y=Y, x=alt.value(0), x2=alt.value(W))

    ymaj = pd.DataFrame({"v": Y_MAJOR})
    ymin = pd.DataFrame({"v": Y_MINOR})
    xmaj = pd.DataFrame({"f": X_LABELS[k]})
    xmin_vals = [round(s + 0.01 * j, 3) for j in range(1, 51) if j % 10 != 0]
    xmin = pd.DataFrame({"f": xmin_vals})

    def yt(df, x0, x1):
        return alt.Chart(df).mark_rule(color=FRAME, strokeWidth=1).encode(
            y=Y, x=alt.value(x0), x2=alt.value(x1))

    def xt(df, y0, y1):
        return alt.Chart(df).mark_rule(color=FRAME, strokeWidth=1).encode(
            x=X, y=alt.value(y0), y2=alt.value(y1))

    ticks = [yt(ymaj, 0, 8), yt(ymaj, W - 8, W), yt(ymin, 0, 4), yt(ymin, W - 4, W),
             xt(xmaj, H - 8, H), xt(xmaj, 0, 8), xt(xmin, H - 4, H), xt(xmin, 0, 4)]

    lab = pd.DataFrame({"f": LINE_FREQ[k], "v": LINE_INT[k], "t": LINE_NAME[k]})
    labels = alt.Chart(lab).mark_text(font=SANS, fontSize=8.5, color="#000",
                                      baseline="middle", align="center").encode(
        x=X, y=Y, text="t:N")

    pos = pd.DataFrame({"f": POS_FREQ[k], "v": POS_INT[k], "t": POS_NAME})
    letters = alt.Chart(pos).mark_text(font="Liberation Serif", fontStyle="italic",
                                       fontSize=16, color="#222",
                                       baseline="middle", align="center").encode(
        x=X, y=Y, text="t:N")

    return alt.layer(lines, base, *ticks, labels, letters).properties(width=W, height=H)


chart = alt.vconcat(*[panel(k) for k in range(4)], spacing=59, bounds="flush").properties(
    padding={"left": 0, "top": 0, "right": 0, "bottom": 0},
    background="white",
).configure_view(stroke=FRAME, strokeWidth=1)

chart.save("out.html", embed_options={"renderer": "svg", "actions": False})
